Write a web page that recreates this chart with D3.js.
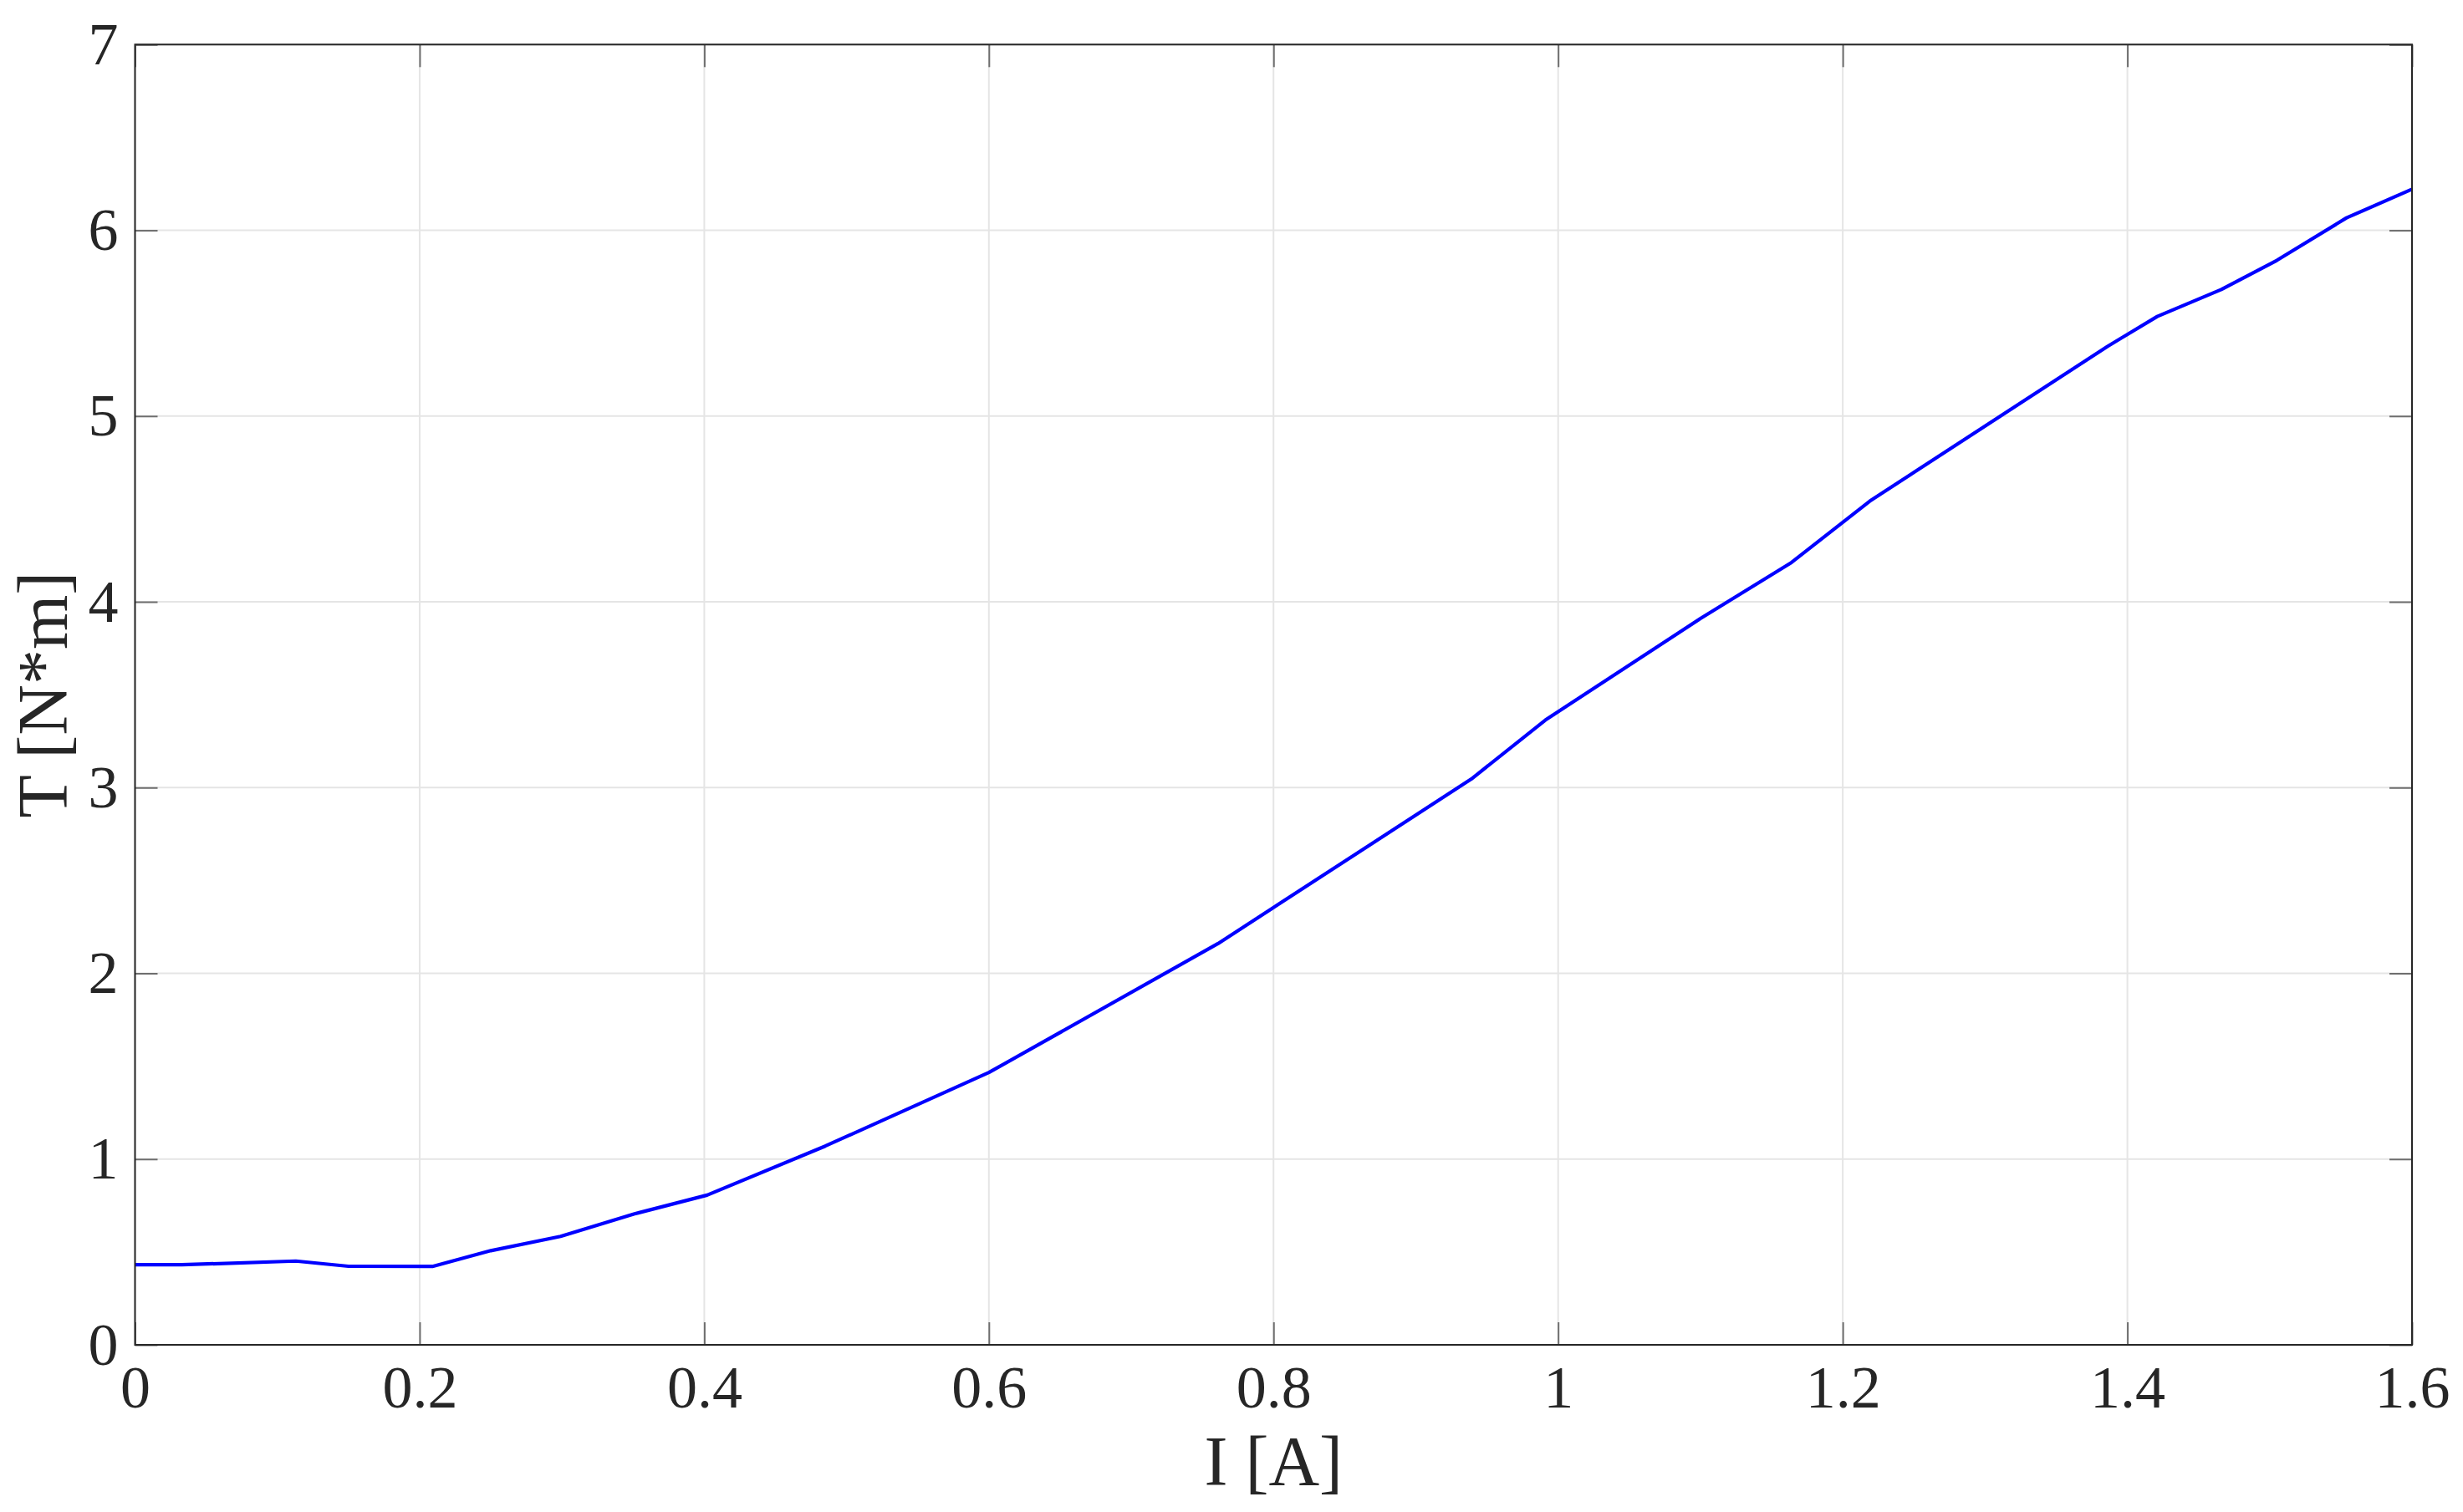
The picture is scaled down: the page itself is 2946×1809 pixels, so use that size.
<!DOCTYPE html>
<html>
<head>
<meta charset="utf-8">
<script src="https://cdn.jsdelivr.net/npm/d3@7"></script>
<style>
  html, body { margin: 0; padding: 0; background: #ffffff; }
  svg { display: block; }
</style>
</head>
<body>
<script>
// ---- data ----
const currentA = [0, 0.033, 0.113, 0.150, 0.209, 0.250, 0.299, 0.351, 0.402, 0.485, 0.600, 0.761, 0.939, 0.991, 1.100, 1.164, 1.219, 1.386, 1.421, 1.466, 1.505, 1.554, 1.600];
const torqueNm = [0.431, 0.431, 0.451, 0.423, 0.422, 0.507, 0.584, 0.705, 0.806, 1.07, 1.466, 2.160, 3.046, 3.363, 3.91, 4.212, 4.542, 5.375, 5.536, 5.681, 5.838, 6.067, 6.221];
const xTicks = [0, 0.2, 0.4, 0.6, 0.8, 1, 1.2, 1.4, 1.6];
const yTicks = [0, 1, 2, 3, 4, 5, 6, 7];
const xLabel = "I [A]";
const yLabel = "T [N*m]";

const W = 2946, H = 1809;
const m = { left: 161.5, top: 53.3, right: W - 2885, bottom: H - 1609 };
const iw = W - m.left - m.right, ih = H - m.top - m.bottom;
const font = "'Liberation Serif', 'Times New Roman', serif";
const textColor = "#262626";

const svg = d3.select("body").append("svg").attr("width", W).attr("height", H);
const g = svg.append("g").attr("transform", `translate(${m.left},${m.top})`);

const x = d3.scaleLinear().domain([0, 1.6]).range([0, iw]);
const y = d3.scaleLinear().domain([0, 7]).range([ih, 0]);

// grid
g.append("g").selectAll("line").data(xTicks).join("line")
  .attr("x1", d => x(d)).attr("x2", d => x(d)).attr("y1", 0).attr("y2", ih)
  .attr("stroke", "#e5e5e5").attr("stroke-width", 2);
g.append("g").selectAll("line").data(yTicks).join("line")
  .attr("y1", d => y(d)).attr("y2", d => y(d)).attr("x1", 0).attr("x2", iw)
  .attr("stroke", "#e5e5e5").attr("stroke-width", 2);

// data line
const line = d3.line().x((d, i) => x(currentA[i])).y((d, i) => y(torqueNm[i]));
g.append("path").datum(torqueNm).attr("d", line)
  .attr("fill", "none").attr("stroke", "#0000ff").attr("stroke-width", 4.2)
  .attr("stroke-linejoin", "round");

// axes with inward ticks
const tickLen = 27;
const xAxis = d3.axisBottom(x).tickValues(xTicks).tickSize(-tickLen).tickPadding(24).tickFormat(d3.format("~g"));
const yAxis = d3.axisLeft(y).tickValues(yTicks).tickSize(-tickLen).tickPadding(20).tickFormat(d3.format("~g"));
const xTop = d3.axisTop(x).tickValues(xTicks).tickSize(-tickLen).tickFormat("");
const yRight = d3.axisRight(y).tickValues(yTicks).tickSize(-tickLen).tickFormat("");

function styleAxis(sel) {
  sel.select(".domain").remove();
  sel.selectAll(".tick line").attr("stroke", "#6e6e6e").attr("stroke-width", 2);
  sel.selectAll(".tick text").attr("fill", textColor).style("font-family", font).style("font-size", "72px");
}
g.append("g").attr("transform", `translate(0,${ih})`).call(xAxis).call(styleAxis);
g.append("g").call(yAxis).call(styleAxis);
g.append("g").call(xTop).call(styleAxis);
g.append("g").attr("transform", `translate(${iw},0)`).call(yRight).call(styleAxis);

// box
g.append("rect").attr("x", 0).attr("y", 0).attr("width", iw).attr("height", ih)
  .attr("fill", "none").attr("stroke", textColor).attr("stroke-width", 2);

// axis labels
svg.append("text").attr("x", m.left + iw / 2).attr("y", 1777)
  .attr("text-anchor", "middle").attr("fill", textColor)
  .style("font-family", font).style("font-size", "84px").text(xLabel);
svg.append("text").attr("transform", `translate(80,${m.top + ih / 2}) rotate(-90)`)
  .attr("text-anchor", "middle").attr("fill", textColor)
  .style("font-family", font).style("font-size", "84px").text(yLabel);
</script>
</body>
</html>
